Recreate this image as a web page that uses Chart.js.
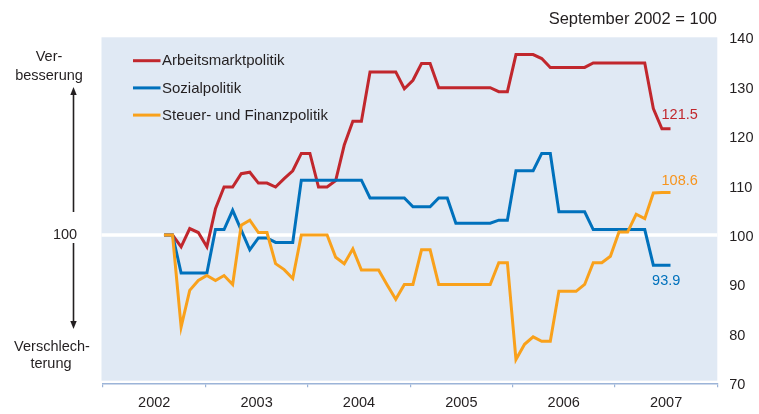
<!DOCTYPE html>
<html><head><meta charset="utf-8">
<script src="https://cdn.jsdelivr.net/npm/chart.js@4.4.0/dist/chart.umd.min.js"></script>
<style>html,body{margin:0;padding:0;background:#fff;}#wrap{width:759px;height:414px;position:relative;}</style>
</head><body><div id="wrap"><canvas id="c" width="759" height="414"></canvas></div>
<script>
const months = [
 '2002-08','2002-09','2002-10','2002-11','2002-12',
 '2003-01','2003-02','2003-03','2003-04','2003-05','2003-06','2003-07','2003-08','2003-09','2003-10','2003-11','2003-12',
 '2004-01','2004-02','2004-03','2004-04','2004-05','2004-06','2004-07','2004-08','2004-09','2004-10','2004-11','2004-12',
 '2005-01','2005-02','2005-03','2005-04','2005-05','2005-06','2005-07','2005-08','2005-09','2005-10','2005-11','2005-12',
 '2006-01','2006-02','2006-03','2006-04','2006-05','2006-06','2006-07','2006-08','2006-09','2006-10','2006-11','2006-12',
 '2007-01','2007-02','2007-03','2007-04','2007-05','2007-06','2007-07'];
const years = ['2002','2003','2004','2005','2006','2007'];
const arbeitsmarkt = [100,100,97.6,101.3,100.5,97.6,105.3,109.7,109.7,112.4,
 112.7,110.5,110.5,109.7,111.4,113,116.5,116.5,109.7,109.7,
 111,118.2,123,123,133,133,133,133,129.6,131.3,
 134.7,134.7,129.8,129.8,129.8,129.8,129.8,129.8,129.8,129,
 129,136.5,136.5,136.5,135.7,133.9,133.9,133.9,133.9,133.9,
 134.8,134.8,134.8,134.8,134.8,134.8,134.8,125.6,121.5,121.5];
const sozial = [100,100,92.3,92.3,92.3,92.3,101.1,101.1,105,101,
 97,99.4,99.4,98.5,98.5,98.5,111.1,111.1,111.1,111.1,
 111.1,111.1,111.1,111.1,107.5,107.5,107.5,107.5,107.5,105.7,
 105.7,105.7,107.5,107.5,102.4,102.4,102.4,102.4,102.4,103,
 103,113,113,113,116.5,116.5,104.7,104.7,104.7,104.7,
 101.1,101.1,101.1,101.1,101.1,101.1,101.1,93.9,93.9,93.9];
const steuer = [100,100,81.4,88.8,90.8,91.8,90.8,91.8,90,102,
 103,100.5,100.5,94.2,93,91.2,100,100,100,100,
 95.5,94.2,97.2,92.9,92.9,92.9,89.9,87,90,90,
 97,97,90,90,90,90,90,90,90,94.4,
 94.4,74.8,77.9,79.4,78.5,78.5,88.6,88.6,88.6,90,
 94.4,94.4,95.7,100.6,100.6,104.2,103.3,108.5,108.6,108.6];
const seriesNames = ['Arbeitsmarktpolitik','Sozialpolitik','Steuer- und Finanzpolitik'];
const endLabels = ['121.5','93.9','108.6'];
const yMin = 70, yMax = 140, yStep = 10;
const baseValue = 100;

const colors = ['#c1272d','#0071bc','#f9a11b'];
const labelColors = ['#c1272d','#0071bc','#f7941d'];
const FONT = '"Liberation Sans", Arial, Helvetica, sans-serif';
const TXT = '#231f20';

function monthIndex(s){const p=s.split('-');return (parseInt(p[0])-2002)*12+parseInt(p[1])-1;}
function toPts(arr){return arr.map((v,i)=>({x:monthIndex(months[i]),y:v}));}

const bgPlugin = {
 id:'bg',
 beforeDraw(chart){
  const {ctx, chartArea:a} = chart;
  ctx.save();
  ctx.fillStyle = '#e0e9f4';
  ctx.fillRect(a.left-1.5, a.top, a.right-a.left+1.5, a.bottom-a.top-2.6);
  ctx.restore();
 },
 beforeDatasetsDraw(chart){
  const {ctx, chartArea:a, scales} = chart;
  const y = scales.y.getPixelForValue(baseValue);
  ctx.save();
  ctx.strokeStyle = '#ffffff';
  ctx.lineWidth = 3.3;
  ctx.beginPath(); ctx.moveTo(a.left-1.5,y); ctx.lineTo(a.right,y); ctx.stroke();
  ctx.restore();
 },
 afterDatasetsDraw(chart){
  const {ctx} = chart;
  ctx.save();
  ctx.font = '15px '+FONT;
  ctx.textBaseline = 'middle';
  ctx.textAlign = 'left';
  chart.data.datasets.forEach((ds,i)=>{
   const y = 60.7 + i*27.2;
   ctx.strokeStyle = ds.borderColor; ctx.lineWidth = 3;
   ctx.beginPath(); ctx.moveTo(133,y); ctx.lineTo(160.5,y); ctx.stroke();
   ctx.fillStyle = TXT;
   ctx.fillText(ds.label, 162, y+0.5);
  });
  ctx.font = '14.5px '+FONT;
  const offs = [[-9,-13.3],[-18.4,15.7],[-9,-12]];
  chart.data.datasets.forEach((ds,i)=>{
   const meta = chart.getDatasetMeta(i);
   const p = meta.data[meta.data.length-1];
   ctx.fillStyle = labelColors[i];
   ctx.fillText(endLabels[i], p.x+offs[i][0], p.y+offs[i][1]);
  });
  ctx.restore();
 },
 afterDraw(chart){
  const {ctx, scales} = chart;
  const y100 = scales.y.getPixelForValue(baseValue);
  ctx.save();
  ctx.fillStyle = TXT;
  ctx.textBaseline = 'middle';
  ctx.font = '16.5px '+FONT;
  ctx.textAlign = 'right';
  ctx.fillText('September 2002 = 100', 717, 19.5);
  ctx.font = '14.5px '+FONT;
  ctx.textAlign = 'center';
  ctx.fillText('Ver-', 49, 57);
  ctx.fillText('besserung', 49, 76);
  ctx.fillText('100', 65, y100);
  ctx.fillText('Verschlech-', 52, 347);
  ctx.fillText('terung', 51, 364);
  const ax = 73.5;
  ctx.strokeStyle = TXT; ctx.lineWidth = 1.6;
  ctx.beginPath(); ctx.moveTo(ax, 94); ctx.lineTo(ax, y100-23); ctx.stroke();
  ctx.beginPath(); ctx.moveTo(ax, y100+8); ctx.lineTo(ax, 322); ctx.stroke();
  ctx.beginPath(); ctx.moveTo(ax, 87); ctx.lineTo(ax-3.2, 95); ctx.lineTo(ax+3.2, 95); ctx.closePath(); ctx.fill();
  ctx.beginPath(); ctx.moveTo(ax, 329); ctx.lineTo(ax-3.2, 321); ctx.lineTo(ax+3.2, 321); ctx.closePath(); ctx.fill();
  ctx.restore();
 }
};

const seriesData = [arbeitsmarkt, sozial, steuer];
new Chart(document.getElementById('c'), {
 type:'line',
 data:{
  datasets: seriesData.map((arr,i)=>({
   label: seriesNames[i],
   data: toPts(arr),
   borderColor: colors[i],
   backgroundColor: colors[i],
   borderWidth: 3,
   pointRadius: 0,
   tension: 0,
   fill: false,
   order: 2-i,
   xAxisID:'x', yAxisID:'y'
  }))
 },
 options:{
  responsive:false, animation:false, devicePixelRatio:1,
  layout:{padding:{left:103,top:37.3,right:0,bottom:0}},
  plugins:{legend:{display:false}, tooltip:{enabled:false}},
  scales:{
   x:{type:'linear', display:false, min:-0.1, max:71.45},
   years:{type:'category', labels:years, position:'bottom', offset:true,
    grid:{offset:true, drawOnChartArea:false, color:'#9cb4d8', tickLength:4, lineWidth:1.2},
    border:{color:'#9cb4d8', width:1.5},
    ticks:{font:{family:FONT,size:14.5}, color:TXT, padding:7, maxRotation:0},
    afterFit(s){s.height=30.7;}
   },
   y:{type:'linear', position:'right', min:yMin, max:yMax,
    ticks:{stepSize:yStep, font:{family:FONT,size:14.5}, color:TXT, padding:12, labelOffset:2},
    grid:{display:false, drawTicks:false},
    border:{display:false},
    afterFit(s){s.width=41.7;}
   }
  }
 },
 plugins:[bgPlugin]
});
</script></body></html>
